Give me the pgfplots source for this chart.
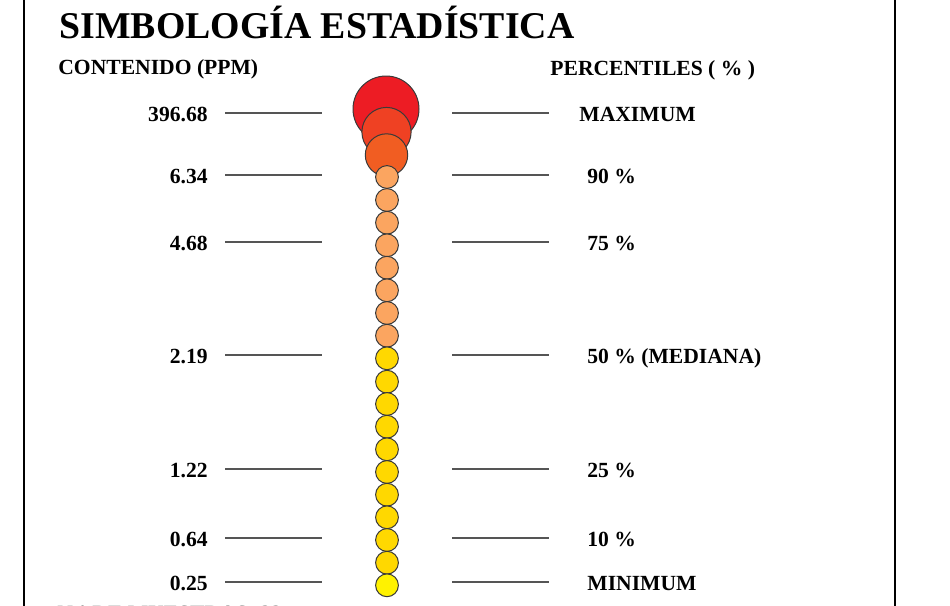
\documentclass[border=0pt]{standalone}
\usepackage{pgfplots}
\pgfplotsset{compat=1.18}
\usepackage{fontspec}
\setmainfont{Liberation Serif}
\definecolor{cRed}{HTML}{ED1C24}
\definecolor{cRedOr}{HTML}{EF4123}
\definecolor{cOr}{HTML}{F15D22}
\definecolor{cLtOr}{HTML}{FBA560}
\definecolor{cYel}{HTML}{FFD800}
\definecolor{cBYel}{HTML}{FFF200}
\definecolor{edge}{HTML}{3A3A3A}
\definecolor{lineg}{HTML}{555555}
\newcommand{\lab}{\bfseries\fontsize{10.8}{12}\selectfont}
\begin{document}
\begin{tikzpicture}
\begin{axis}[name=ax, scale only axis, width=475pt, height=303pt,
  xmin=0, xmax=950, ymin=0, ymax=606, y dir=reverse,
  hide axis, clip=false]
% frame
\draw[black, line width=1pt] (axis cs:24,-5) -- (axis cs:24,615);
\draw[black, line width=1pt] (axis cs:895,-5) -- (axis cs:895,615);
% title and headers
\node[anchor=base west, inner sep=0pt, font=\bfseries\fontsize{18.9}{20}\selectfont] at (axis cs:59,38) {SIMBOLOGÍA ESTADÍSTICA};
\node[anchor=base west, inner sep=0pt, font=\lab] at (axis cs:58,74.5) {CONTENIDO (PPM)};
\node[anchor=base west, inner sep=0pt, font=\lab] at (axis cs:550,75) {PERCENTILES ( \% )};
% guide lines
\draw[lineg, line width=0.6pt] (axis cs:225,113) -- (axis cs:322,113);
\draw[lineg, line width=0.6pt] (axis cs:225,175) -- (axis cs:322,175);
\draw[lineg, line width=0.6pt] (axis cs:225,242) -- (axis cs:322,242);
\draw[lineg, line width=0.6pt] (axis cs:225,355) -- (axis cs:322,355);
\draw[lineg, line width=0.6pt] (axis cs:225,469) -- (axis cs:322,469);
\draw[lineg, line width=0.6pt] (axis cs:225,538) -- (axis cs:322,538);
\draw[lineg, line width=0.6pt] (axis cs:225,582) -- (axis cs:322,582);
\draw[lineg, line width=0.6pt] (axis cs:452,113) -- (axis cs:549,113);
\draw[lineg, line width=0.6pt] (axis cs:452,175) -- (axis cs:549,175);
\draw[lineg, line width=0.6pt] (axis cs:452,242) -- (axis cs:549,242);
\draw[lineg, line width=0.6pt] (axis cs:452,355) -- (axis cs:549,355);
\draw[lineg, line width=0.6pt] (axis cs:452,469) -- (axis cs:549,469);
\draw[lineg, line width=0.6pt] (axis cs:452,538) -- (axis cs:549,538);
\draw[lineg, line width=0.6pt] (axis cs:452,582) -- (axis cs:549,582);
% left values
\node[anchor=base east, inner sep=0pt, font=\lab] at (axis cs:208,121) {396.68};
\node[anchor=base east, inner sep=0pt, font=\lab] at (axis cs:208,183) {6.34};
\node[anchor=base east, inner sep=0pt, font=\lab] at (axis cs:208,250) {4.68};
\node[anchor=base east, inner sep=0pt, font=\lab] at (axis cs:208,363) {2.19};
\node[anchor=base east, inner sep=0pt, font=\lab] at (axis cs:208,477) {1.22};
\node[anchor=base east, inner sep=0pt, font=\lab] at (axis cs:208,546) {0.64};
\node[anchor=base east, inner sep=0pt, font=\lab] at (axis cs:208,590) {0.25};
% right labels
\node[anchor=base west, inner sep=0pt, font=\lab] at (axis cs:579,121) {MAXIMUM};
\node[anchor=base west, inner sep=0pt, font=\lab] at (axis cs:587,183) {90 \%};
\node[anchor=base west, inner sep=0pt, font=\lab] at (axis cs:587,250) {75 \%};
\node[anchor=base west, inner sep=0pt, font=\lab] at (axis cs:587,363) {50 \% (MEDIANA)};
\node[anchor=base west, inner sep=0pt, font=\lab] at (axis cs:587,477) {25 \%};
\node[anchor=base west, inner sep=0pt, font=\lab] at (axis cs:587,546) {10 \%};
\node[anchor=base west, inner sep=0pt, font=\lab] at (axis cs:587,590) {MINIMUM};
% cut-off footer (only its top shows in the reference)
\node[anchor=base west, inner sep=0pt, font=\lab] at (axis cs:57,620) {N.° DE MUESTRAS: 22};
% circles
\addplot[only marks, mark=*, mark size=16.5pt, mark options={fill=cRed, draw=edge, line width=0.5pt}] coordinates {(386,109)};
\addplot[only marks, mark=*, mark size=12.3pt, mark options={fill=cRedOr, draw=edge, line width=0.5pt}] coordinates {(386.5,132)};
\addplot[only marks, mark=*, mark size=10.6pt, mark options={fill=cOr, draw=edge, line width=0.5pt}] coordinates {(386.5,155)};
\addplot[only marks, mark=*, mark size=5.7pt, mark options={fill=cLtOr, draw=edge, line width=0.5pt}] coordinates {
(387,177) (387,200) (387,222.7) (387,245.3) (387,267.7) (387,290.3) (387,313) (387,335.7)};
\addplot[only marks, mark=*, mark size=5.7pt, mark options={fill=cYel, draw=edge, line width=0.5pt}] coordinates {
(387,358.3) (387,381.7) (387,404) (387,426.7) (387,449.3) (387,472) (387,494.7) (387,517.3) (387,540) (387,562.7)};
\addplot[only marks, mark=*, mark size=5.7pt, mark options={fill=cBYel, draw=edge, line width=0.5pt}] coordinates {(387,585.3)};
\end{axis}
\pgfresetboundingbox
\useasboundingbox (ax.south west) rectangle (ax.north east);
\end{tikzpicture}
\end{document}
